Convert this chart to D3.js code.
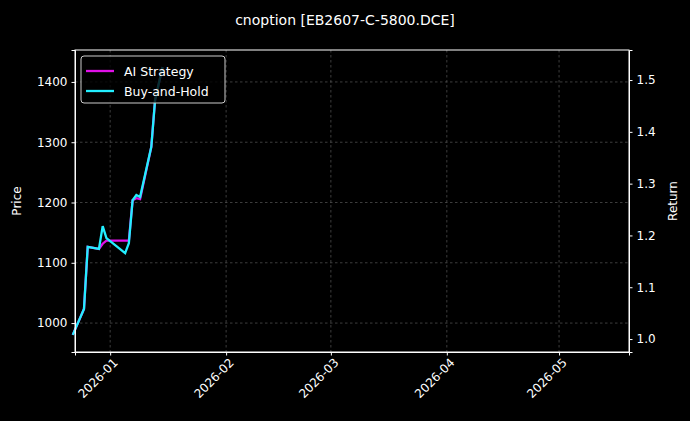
<!DOCTYPE html>
<html>
<head>
<meta charset="utf-8">
<style>
  body { margin: 0; background: #000; }
  text { font-family: "DejaVu Sans", sans-serif; fill: #fff; }
  .grid line { stroke: #666; stroke-dasharray: 2.5,2.5; stroke-width: 0.6px; }
  .axis path, .axis line { stroke: #fff; }
</style>
</head>
<body>
<script src="https://d3js.org/d3.v7.min.js"></script>
<script>
var dates = ["2025-12-22","2025-12-25","2025-12-26","2025-12-29","2025-12-30","2025-12-31",
             "2026-01-05","2026-01-06","2026-01-07","2026-01-08","2026-01-09","2026-01-12",
             "2026-01-13","2026-01-15"];
var strategy = [1.008,1.058,1.178,1.174,1.184,1.190,1.190,1.190,1.268,1.272,1.270,1.371,1.461,1.525];
var buyHold  = [1.008,1.058,1.178,1.174,1.218,1.195,1.166,1.185,1.268,1.278,1.274,1.371,1.461,1.525];
var priceTicks = [1000,1100,1200,1300,1400];
var returnTicks = [1.0,1.1,1.2,1.3,1.4,1.5];
var monthTicks = ["2026-01-01","2026-02-01","2026-03-01","2026-04-01","2026-05-01"];

var W = 690, H = 421, L = 75, R = 629, T = 50, B = 352;
var parse = d3.utcParse("%Y-%m-%d");
var svg = d3.select("body").append("svg").attr("width", W).attr("height", H);

var x = d3.scaleUtc().domain([parse("2025-12-22").getTime() + 0.6*864e5, parse("2026-05-19").getTime() + 0.7*864e5]).range([L, R]);
var yP = d3.scaleLinear().domain([952, 1453]).range([B, T]);
var yR = d3.scaleLinear().domain([0.975, 1.558]).range([B, T]);

svg.append("g").attr("class", "grid")
  .selectAll("line").data(monthTicks).join("line")
  .attr("x1", d => x(parse(d))).attr("x2", d => x(parse(d))).attr("y1", T).attr("y2", B);
svg.append("g").attr("class", "grid")
  .selectAll("line").data(priceTicks).join("line")
  .attr("x1", L).attr("x2", R).attr("y1", d => yP(d)).attr("y2", d => yP(d));

var line = d3.line().x((d, i) => x(parse(dates[i]))).y(d => yR(d));
svg.append("path").datum(strategy).attr("d", line).attr("fill", "none")
  .attr("stroke", "#e010e8").attr("stroke-width", 2.3);
svg.append("path").datum(buyHold).attr("d", line).attr("fill", "none")
  .attr("stroke", "#22eeff").attr("stroke-width", 2.3);

svg.append("g").attr("class", "axis").attr("transform", "translate(" + L + ",0)")
  .call(d3.axisLeft(yP).tickValues(priceTicks).tickFormat(d3.format("d")).tickSize(3.5).tickPadding(4))
  .call(g => g.selectAll("text").attr("font-size", 12).style("fill", "#fff"));
svg.append("g").attr("class", "axis").attr("transform", "translate(" + R + ",0)")
  .call(d3.axisRight(yR).tickValues(returnTicks).tickFormat(d3.format(".1f")).tickSize(3.5).tickPadding(4))
  .call(g => g.selectAll("text").attr("font-size", 12).style("fill", "#fff"));
var xa = svg.append("g").attr("class", "axis").attr("transform", "translate(0," + B + ")")
  .call(d3.axisBottom(x).tickValues(monthTicks.map(parse)).tickFormat(d3.utcFormat("%Y-%m")).tickSize(3.5));
xa.selectAll("text").attr("font-size", 12).style("fill", "#fff")
  .attr("text-anchor", "end").attr("dx", "-0.2em").attr("dy", "0.6em")
  .attr("transform", "rotate(-45)");

svg.append("rect").attr("x", L).attr("y", T).attr("width", R - L).attr("height", B - T)
  .attr("fill", "none").attr("stroke", "#fff");

svg.append("text").attr("x", 345).attr("y", 25).attr("text-anchor", "middle")
  .attr("font-size", 14).text("cnoption [EB2607-C-5800.DCE]");
svg.append("text").attr("transform", "translate(21,201) rotate(-90)").attr("text-anchor", "middle")
  .attr("font-size", 12).text("Price");
svg.append("text").attr("transform", "translate(677,201) rotate(-90)").attr("text-anchor", "middle")
  .attr("font-size", 12).text("Return");

var leg = svg.append("g");
leg.append("rect").attr("x", 81).attr("y", 56).attr("width", 144).attr("height", 47).attr("rx", 3)
  .attr("fill", "#000").attr("fill-opacity", 0.8).attr("stroke", "#ccc");
[["AI Strategy", "#e010e8"], ["Buy-and-Hold", "#22eeff"]].forEach(function (d, i) {
  var yy = 71 + i * 20;
  leg.append("line").attr("x1", 86).attr("x2", 114).attr("y1", yy).attr("y2", yy)
    .attr("stroke", d[1]).attr("stroke-width", 2.3);
  leg.append("text").attr("x", 124).attr("y", yy + 4.5).attr("font-size", 12.5).text(d[0]);
});
</script>
</body>
</html>
